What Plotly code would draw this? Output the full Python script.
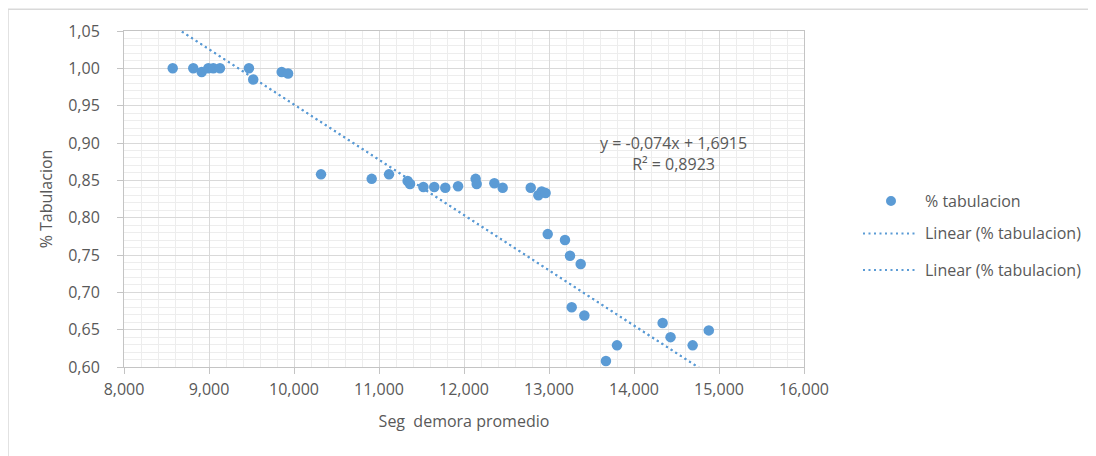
import plotly.graph_objects as go

# ---- data ----
seg_demora = [8.573, 8.815, 8.914, 8.992, 9.051, 9.129, 9.470, 9.520, 9.855, 9.930,
              10.318, 10.914, 11.118, 11.337, 11.365, 11.522, 11.650, 11.780, 11.930,
              12.137, 12.149, 12.357, 12.455, 12.785, 12.875, 12.914, 12.960,
              12.985, 13.188, 13.247, 13.373, 13.267, 13.416, 13.670, 13.800,
              14.337, 14.430, 14.690, 14.880]
pct_tabulacion = [1.000, 1.000, 0.995, 1.000, 1.000, 1.000, 1.000, 0.985, 0.995, 0.993,
                  0.858, 0.852, 0.858, 0.849, 0.845, 0.841, 0.841, 0.840, 0.842,
                  0.852, 0.845, 0.846, 0.840, 0.840, 0.830, 0.835, 0.833,
                  0.778, 0.770, 0.749, 0.738, 0.680, 0.669, 0.608, 0.629,
                  0.659, 0.640, 0.629, 0.649]
trend_slope = -0.074
trend_intercept = 1.6915
trend_label = "y = -0,074x + 1,6915<br>R² = 0,8923"
series_name = "% tabulacion"
trend_name = "Linear (% tabulacion)"
x_title = "Seg\u00a0 demora promedio"
y_title = "% Tabulacion"

BLUE = "#5B9BD5"
TXT = "#595959"
FONT = "Open Sans"
FS = 16

OFF = 8  # page body margin
W, H = 1096, 456
# plot area in window pixels: x 124..804, y 29.3..366.7
L = 124 - OFF
T = 29 - OFF
R = W - (804 - OFF)
B = H - (367 - OFF)
PW, PH = W - L - R, H - T - B


def px(xw):
    return (xw - OFF - L) / PW


def py(yw):
    return (H - B - (yw - OFF)) / PH


fig = go.Figure()

# trendline (two identical linear trendlines, as in the source)
tx = [min(seg_demora), max(seg_demora)]
ty = [trend_slope * v + trend_intercept for v in tx]
for _ in range(2):
    fig.add_trace(go.Scatter(x=tx, y=ty, mode="lines", name=trend_name,
                             line=dict(color=BLUE, width=2, dash="2px,3.5px"),
                             showlegend=False, hoverinfo="skip"))

fig.add_trace(go.Scatter(x=seg_demora, y=pct_tabulacion, mode="markers", name=series_name,
                         marker=dict(color=BLUE, size=10.5, line=dict(width=0)),
                         showlegend=False))

fig.update_layout(
    width=W, height=H,
    margin=dict(l=L, r=R, t=T, b=B, pad=0),
    paper_bgcolor="white", plot_bgcolor="white",
    separators=",.",
    font=dict(family=FONT, size=FS, color=TXT),
    xaxis=dict(range=[8, 16], tick0=8, dtick=1, tickformat=".3f",
               showgrid=True, gridcolor="#D9D9D9", gridwidth=1,
               minor=dict(dtick=0.2, showgrid=True, gridcolor="#EDEDED", gridwidth=1, ticks=""),
               showline=True, linecolor="#C4C4C4", linewidth=1, mirror=True,
               ticks="outside", ticklen=6, tickcolor="#C4C4C4",
               ticklabelstandoff=2,
               zeroline=False,
               title=dict(text=x_title, font=dict(family=FONT, size=FS, color=TXT), standoff=16)),
    yaxis=dict(range=[0.6, 1.05], tick0=0.6, dtick=0.05, tickformat=".2f",
               showgrid=True, gridcolor="#D9D9D9", gridwidth=1,
               minor=dict(dtick=0.01, showgrid=True, gridcolor="#EDEDED", gridwidth=1, ticks=""),
               showline=True, linecolor="#C4C4C4", linewidth=1, mirror=True,
               ticks="outside", ticklen=6, tickcolor="#C4C4C4",
               ticklabelstandoff=14,
               zeroline=False,
               title=dict(text=y_title, font=dict(family=FONT, size=FS, color=TXT), standoff=11)),
    showlegend=False,
)

# equation annotation
fig.add_annotation(x=px(673), y=py(152), xref="paper", yref="paper", text=trend_label,
                   showarrow=False, align="center", font=dict(family=FONT, size=FS, color=TXT),
                   xanchor="center", yanchor="middle")

# chart outer border
fig.add_shape(type="rect", xref="paper", yref="paper",
              x0=px(8), x1=px(1093), y0=py(470), y1=py(7),
              line=dict(color="#D9D9D9", width=1.5), fillcolor="rgba(0,0,0,0)", layer="below")

# manual legend
fig.add_shape(type="circle", xref="paper", yref="paper",
              x0=px(891 - 5), x1=px(891 + 5), y0=py(200 + 5), y1=py(200 - 5),
              line=dict(width=0), fillcolor=BLUE)
fig.add_annotation(x=px(923), y=py(200), xref="paper", yref="paper", text=series_name,
                   showarrow=False, xanchor="left", yanchor="middle",
                   font=dict(family=FONT, size=FS, color=TXT))
for yy in (232.7, 269.3):
    fig.add_shape(type="line", xref="paper", yref="paper",
                  x0=px(863), x1=px(917), y0=py(yy), y1=py(yy),
                  line=dict(color=BLUE, width=2, dash="2px,3.5px"))
    fig.add_annotation(x=px(923), y=py(yy), xref="paper", yref="paper", text=trend_name,
                       showarrow=False, xanchor="left", yanchor="middle",
                       font=dict(family=FONT, size=FS, color=TXT))

fig.write_html("out.html")
